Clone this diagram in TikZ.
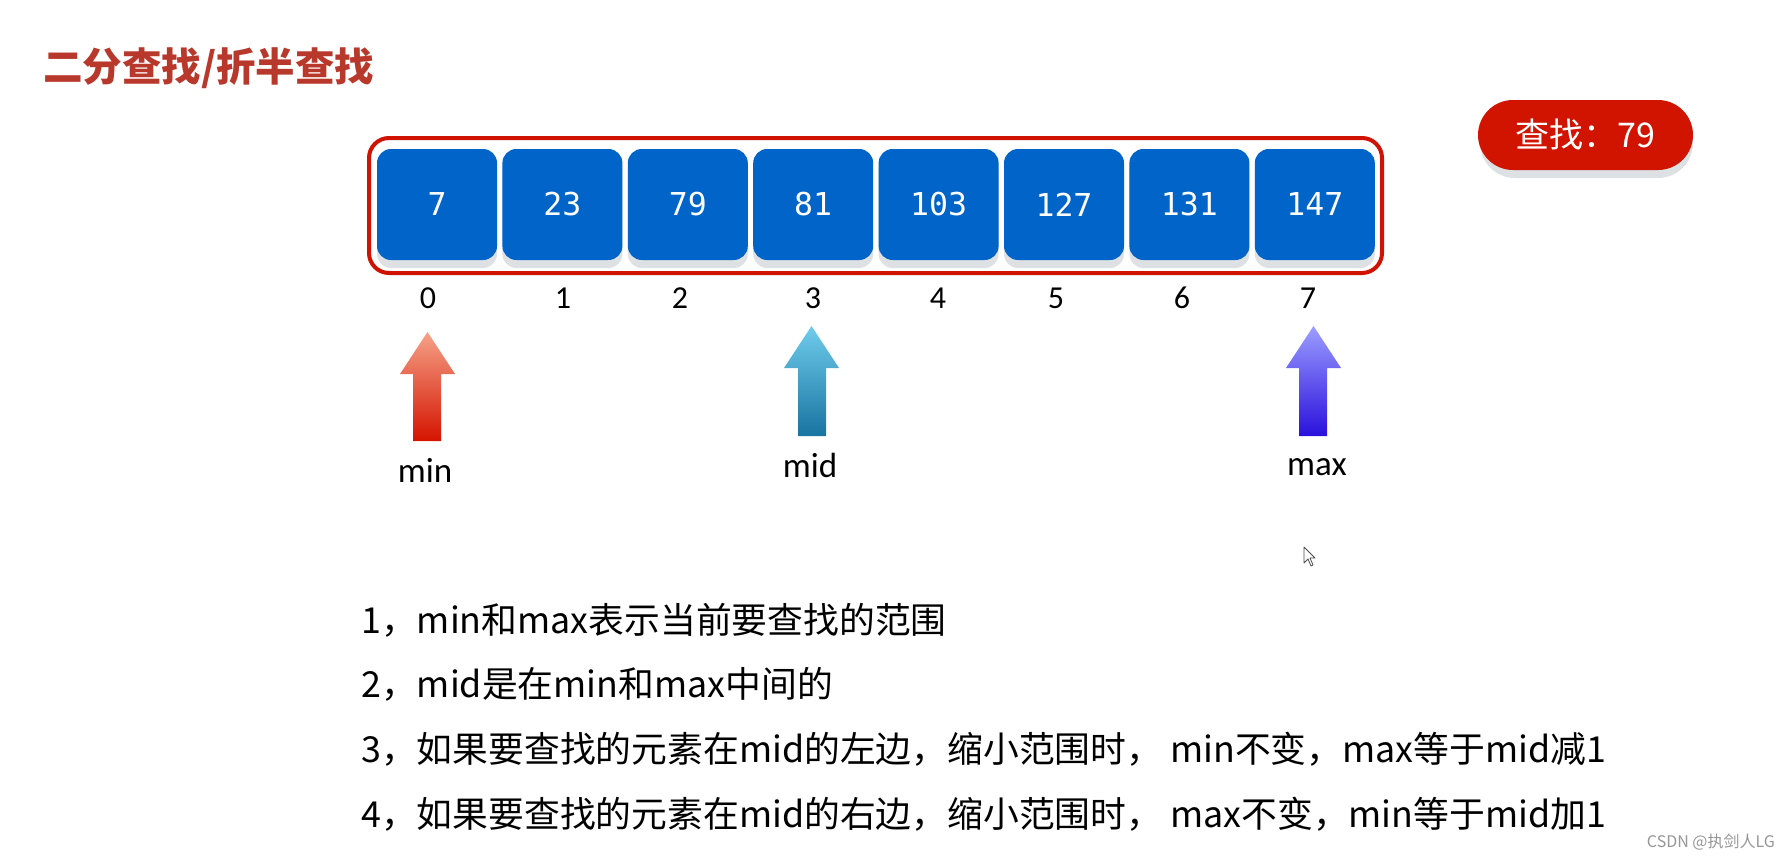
\documentclass[tikz,border=0pt]{standalone}
\usepackage{fontspec}
\setmainfont{Carlito}
\newfontfamily\cjk{Noto Sans CJK SC}
\newfontfamily\monofnt{DejaVu Sans Mono}
\definecolor{titlered}{RGB}{185,56,44}
\definecolor{framered}{RGB}{208,18,0}
\definecolor{boxblue}{RGB}{0,100,200}
\definecolor{shadowgray}{RGB}{222,225,228}
\definecolor{pillred}{RGB}{208,20,0}
\definecolor{minTop}{RGB}{246,162,136}
\definecolor{minBot}{RGB}{212,20,0}
\definecolor{midTop}{RGB}{112,204,236}
\definecolor{midBot}{RGB}{24,116,160}
\definecolor{maxTop}{RGB}{156,158,255}
\definecolor{maxBot}{RGB}{42,16,220}
\definecolor{wmgray}{RGB}{150,150,150}
\tikzset{
  cell/.style={fill=boxblue, rounded corners=14pt, minimum width=120pt, minimum height=111pt,
    inner sep=0pt, text=white, font=\monofnt\fontsize{31.5}{36}\selectfont},
  idx/.style={inner sep=0pt, font=\fontsize{32}{36}\selectfont},
  ptrlabel/.style={inner sep=0pt, font=\fontsize{35}{40}\selectfont},
  bodyline/.style={anchor=west, inner sep=0pt, font=\cjk\fontsize{35.8}{42}\selectfont},
}
\begin{document}
\begin{tikzpicture}[x=1pt,y=-1pt]
\useasboundingbox (0,0) rectangle (1790,859);
% title
\node[anchor=west, inner sep=0pt, text=titlered, font=\cjk\bfseries\fontsize{39.5}{46}\selectfont] (title) at (43,68) {二分查找/折半查找};
% search pill
\fill[shadowgray, rounded corners=35pt] (1480,108) rectangle (1693,178);
\node[fill=pillred, rounded corners=35pt, minimum width=215pt, minimum height=70pt, inner sep=0pt,
  text=white, font=\cjk\fontsize{34}{40}\selectfont] (pill) at (1585.5,135) {查找：79};
% frame
\draw[framered, line width=4pt, rounded corners=20pt, fill=white] (369,138) rectangle (1382,273);
% cells
\foreach \i/\v in {0/7,1/23,2/79,3/81,4/103,5/127,6/131,7/147}{
  \pgfmathsetmacro\cx{437+125.4*\i}
  \fill[shadowgray, rounded corners=14pt] (\cx-60,157) rectangle (\cx+60,268);
  \node[cell] (c\i) at (\cx,204.5) {\v};
}
% indices
\foreach \i/\x in {0/428,1/563,2/680,3/813,4/938,5/1056,6/1182,7/1308}{
  \node[idx] (i\i) at (\x,298) {\i};
}
% arrows
\shade[top color=minTop, bottom color=minBot] (427.5,332) -- (455,374) -- (441,374) -- (441,441) -- (413,441) -- (413,374) -- (400,374) -- cycle;
\shade[top color=midTop, bottom color=midBot] (811.5,326) -- (839,368) -- (826,368) -- (826,436) -- (798,436) -- (798,368) -- (784,368) -- cycle;
\shade[top color=maxTop, bottom color=maxBot] (1313.5,326) -- (1341,368) -- (1327,368) -- (1327,436) -- (1299,436) -- (1299,368) -- (1286,368) -- cycle;
\node[ptrlabel] (lmin) at (425,470) {min};
\node[ptrlabel] (lmid) at (810,465) {mid};
\node[ptrlabel] (lmax) at (1317,467) {max};
% cursor
\draw[black!70, line width=0.8pt, fill=white, line join=round] (1304,547) -- (1304,563) -- (1308,559) -- (1311,566) -- (1313,565) -- (1310,558) -- (1315,558) -- cycle;
% text lines
\node[bodyline] (t1) at (361,620) {1，min和max表示当前要查找的范围};
\node[bodyline] (t2) at (361,684) {2，mid是在min和max中间的};
\node[bodyline] (t3) at (361,749) {3，如果要查找的元素在mid的左边，缩小范围时， min不变，max等于mid减1};
\node[bodyline] (t4) at (361,814) {4，如果要查找的元素在mid的右边，缩小范围时， max不变，min等于mid加1};
% watermark
\node[anchor=east, inner sep=0pt, text=wmgray, font=\cjk\fontsize{16}{18}\selectfont] (wm) at (1775,842) {CSDN @执剑人LG};
\end{tikzpicture}
\end{document}
